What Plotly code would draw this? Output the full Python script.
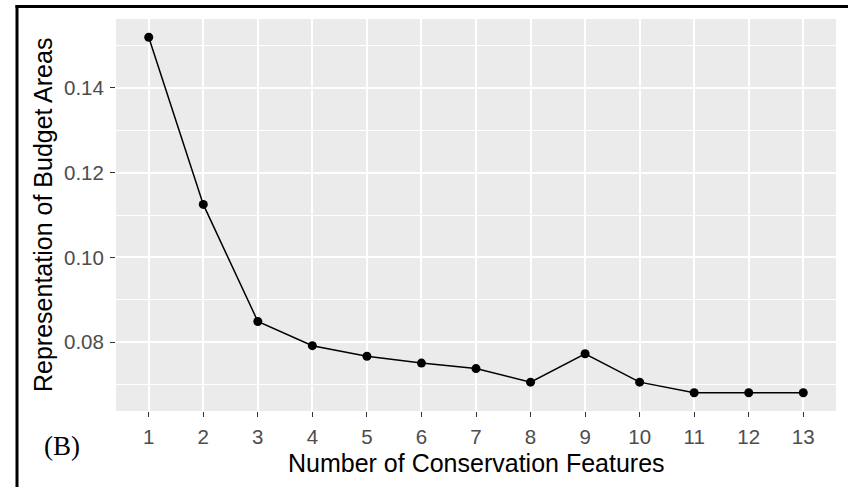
import plotly.graph_objects as go

features = [1, 2, 3, 4, 5, 6, 7, 8, 9, 10, 11, 12, 13]
representation = [0.1519, 0.1125, 0.0849, 0.0792, 0.0767, 0.0751, 0.0738,
                  0.0706, 0.0773, 0.0706, 0.0681, 0.0681, 0.0681]
x_ticks = list(range(1, 14))
y_ticks = [0.08, 0.10, 0.12, 0.14]

fig = go.Figure()
fig.add_trace(go.Scatter(
    x=features, y=representation, mode="lines+markers",
    line=dict(color="black", width=1.5),
    marker=dict(color="black", size=9),
    showlegend=False, hoverinfo="skip",
))

W, H = 848, 487
L, R, T, B = 116, 12, 19, 76
pw, ph = W - L - R, H - T - B

def px_x(p):
    return (p - L) / pw

def px_y(p):
    return (H - B - p) / ph

fig.update_layout(
    width=W, height=H,
    margin=dict(l=L, r=R, t=T, b=B),
    paper_bgcolor="white",
    plot_bgcolor="#EBEBEB",
    font=dict(family="Liberation Sans, Arial, sans-serif", color="#4D4D4D"),
    xaxis=dict(
        range=[0.4, 13.6], tickmode="array", tickvals=x_ticks,
        ticktext=[str(v) for v in x_ticks],
        showgrid=True, gridcolor="white", gridwidth=1.6,
        zeroline=False, showline=False,
        ticks="outside", ticklen=5, tickwidth=1.4, tickcolor="#333333",
        tickfont=dict(size=20.5, color="#4D4D4D"),
        ticklabelstandoff=2,
    ),
    yaxis=dict(
        range=[0.0638, 0.1562], tickmode="array", tickvals=y_ticks,
        ticktext=[f"{v:.2f}" for v in y_ticks],
        showgrid=True, gridcolor="white", gridwidth=1.6,
        zeroline=False, showline=False,
        ticks="outside", ticklen=5, tickwidth=1.4, tickcolor="#333333",
        tickfont=dict(size=20.5, color="#4D4D4D"),
        ticklabelstandoff=2,
        minor=dict(dtick=0.01, tick0=0.0, showgrid=True,
                   gridcolor="white", gridwidth=0.8, ticks=""),
    ),
    shapes=[
        dict(type="line", xref="paper", yref="paper",
             x0=px_x(17), x1=px_x(17), y0=px_y(5), y1=px_y(490),
             line=dict(color="black", width=3)),
        dict(type="line", xref="paper", yref="paper",
             x0=px_x(15.5), x1=px_x(850), y0=px_y(6.5), y1=px_y(6.5),
             line=dict(color="black", width=3)),
    ],
    annotations=[
        dict(text="Number of Conservation Features", xref="paper", yref="paper",
             x=px_x(476), y=px_y(463), xanchor="center", yanchor="middle",
             showarrow=False, font=dict(size=25, color="black")),
        dict(text="Representation of Budget Areas", xref="paper", yref="paper",
             x=px_x(43), y=px_y(215), xanchor="center", yanchor="middle",
             textangle=-90, showarrow=False, font=dict(size=25, color="black")),
        dict(text="(B)", xref="paper", yref="paper",
             x=px_x(62), y=px_y(446), xanchor="center", yanchor="middle",
             showarrow=False,
             font=dict(size=27, color="black",
                       family="Liberation Serif, Times New Roman, serif")),
    ],
)

fig.write_html("out.html")
